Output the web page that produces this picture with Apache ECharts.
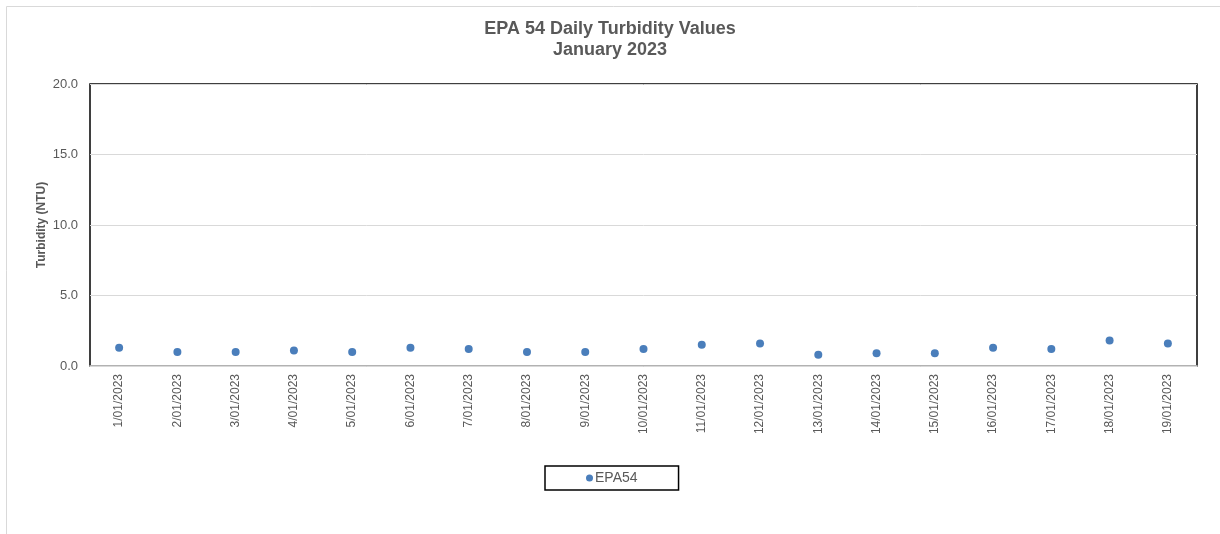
<!DOCTYPE html>
<html>
<head>
<meta charset="utf-8">
<script src="https://cdn.jsdelivr.net/npm/echarts@6/dist/echarts.min.js"></script>
<style>html,body{margin:0;padding:0;background:#fff}#c{width:1220px;height:534px}</style>
</head>
<body>
<div id="c"></div>
<script>
const categories = ['1/01/2023','2/01/2023','3/01/2023','4/01/2023','5/01/2023','6/01/2023','7/01/2023','8/01/2023','9/01/2023','10/01/2023','11/01/2023','12/01/2023','13/01/2023','14/01/2023','15/01/2023','16/01/2023','17/01/2023','18/01/2023','19/01/2023'];
const epa54 = [1.3,1.0,1.0,1.1,1.0,1.3,1.2,1.0,1.0,1.2,1.5,1.6,0.8,0.9,0.9,1.3,1.2,1.8,1.6];
const titleLines = 'EPA 54 Daily Turbidity Values\nJanuary 2023';
const yAxisName = 'Turbidity (NTU)';
const seriesName = 'EPA54';

const chart = echarts.init(document.getElementById('c'), null, {renderer:'canvas'});
chart.setOption({
  animation:false,
  textStyle:{fontFamily:'Liberation Sans, Arial, sans-serif'},
  graphic:[{type:'rect',shape:{x:6.5,y:6.5,width:1240,height:560},style:{fill:'none',stroke:'#d9d9d9',lineWidth:1},z:-10}],
  title:{text:titleLines,left:'center',top:14,textStyle:{fontSize:18,fontWeight:'bold',color:'#595959',lineHeight:21}},
  grid:{left:90,right:23,top:84,bottom:168,show:true,borderColor:'#000',borderWidth:1.5,backgroundColor:'transparent'},
  legend:{data:[{name:seriesName,icon:'circle'}],left:545,top:466,width:135,height:25,padding:[5,41,5,41],
    borderColor:'#000',borderWidth:1.5,itemWidth:7,itemHeight:7,itemGap:0,
    textStyle:{color:'#595959',fontSize:14,padding:[0,0,0,-3]}},
  xAxis:{type:'category',data:categories,boundaryGap:true,
    axisLine:{show:true,lineStyle:{color:'#d9d9d9',width:1.5}},
    axisTick:{show:false},
    axisLabel:{rotate:90,color:'#595959',fontSize:12,margin:8,interval:0}},
  yAxis:{type:'value',min:0,max:20,interval:5,
    name:yAxisName,nameLocation:'middle',nameGap:42,nameMoveOverlap:false,
    nameTextStyle:{color:'#595959',fontSize:12,fontWeight:'bold'},
    axisLine:{show:false},axisTick:{show:false},
    axisLabel:{color:'#595959',fontSize:13,margin:12,formatter:v=>v.toFixed(1)},
    splitLine:{lineStyle:{color:'#d9d9d9',width:1}}},
  series:[{name:seriesName,type:'scatter',data:epa54,symbol:'circle',symbolSize:8,
    itemStyle:{color:'#4a7ebb',opacity:1}}]
});
</script>
</body>
</html>
